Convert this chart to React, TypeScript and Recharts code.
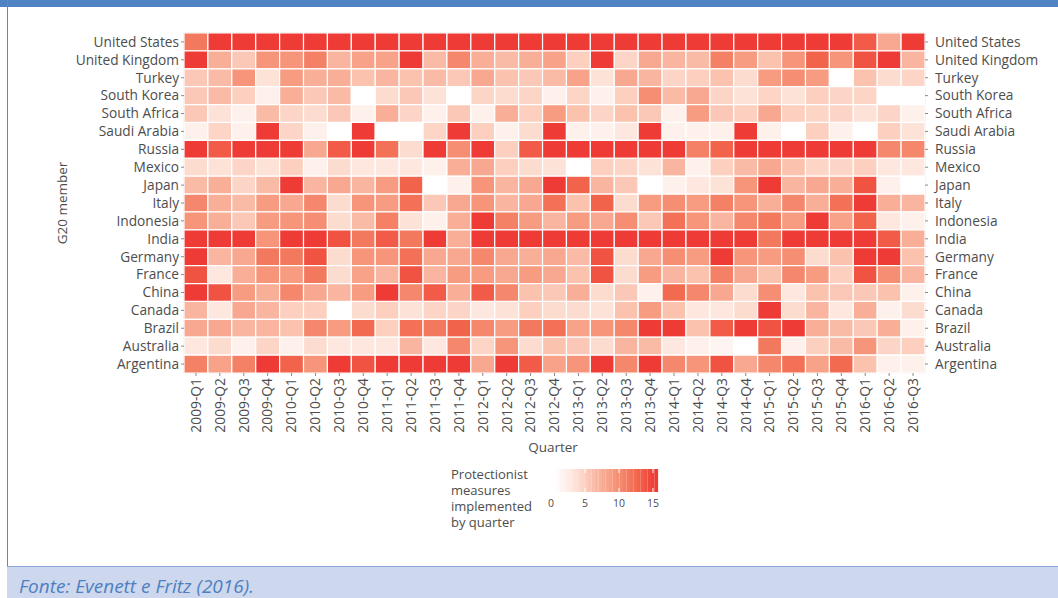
import React from 'react'
import { BarChart, Bar, XAxis, YAxis, Cell, ReferenceArea } from 'recharts'

// G20 members, top to bottom
const COUNTRIES = [
  'United States', 'United Kingdom', 'Turkey', 'South Korea', 'South Africa',
  'Saudi Arabia', 'Russia', 'Mexico', 'Japan', 'Italy', 'Indonesia', 'India',
  'Germany', 'France', 'China', 'Canada', 'Brazil', 'Australia', 'Argentina',
]

const QUARTERS = [
  '2009-Q1', '2009-Q2', '2009-Q3', '2009-Q4', '2010-Q1', '2010-Q2', '2010-Q3', '2010-Q4',
  '2011-Q1', '2011-Q2', '2011-Q3', '2011-Q4', '2012-Q1', '2012-Q2', '2012-Q3', '2012-Q4',
  '2013-Q1', '2013-Q2', '2013-Q3', '2013-Q4', '2014-Q1', '2014-Q2', '2014-Q3', '2014-Q4',
  '2015-Q1', '2015-Q2', '2015-Q3', '2015-Q4', '2016-Q1', '2016-Q2', '2016-Q3',
]

// protectionist measures implemented per quarter
const unitedStates = [11, 15, 15, 15, 15, 15, 15, 15, 15, 15, 15, 15, 15, 15, 15, 15, 15, 15, 15, 15, 15, 15, 15, 15, 15, 15, 15, 15, 13, 7.5, 15]
const unitedKingdom = [15, 7, 5, 9, 9, 10.5, 6.5, 8, 8, 15, 6, 10, 7, 6, 7, 8, 4.5, 15, 4, 7.5, 6.5, 6, 10.5, 8.5, 5.5, 9, 12.5, 9, 13.5, 15, 6.5]
const turkey = [5, 6, 9, 3, 8.5, 7, 7, 5.5, 6.5, 5.5, 6, 5, 7.5, 5.5, 5, 6, 8, 3, 7.5, 6.5, 4, 4.5, 5.5, 3.5, 8.5, 9.5, 8.5, 0, 5.5, 3.5, 4]
const southKorea = [5, 6, 4.5, 1.5, 7, 5, 6, 0, 3.5, 5, 3, 0, 4, 3.5, 4, 1.5, 4, 1.5, 4.5, 9.5, 6, 7.5, 4, 3, 4, 3, 4.5, 4, 4, 0, 0]
const southAfrica = [5, 3, 1.5, 6, 4, 3.5, 5, 1.5, 7, 4, 1.5, 5, 1.5, 7, 4.5, 8.5, 5.5, 4, 5.5, 5, 1.5, 8.5, 5, 4.5, 7.5, 4.5, 4, 4, 3, 4, 1.5]
const saudiArabia = [1.5, 4, 1.5, 15, 4, 1.5, 0, 15, 0, 0, 4, 15, 4.5, 1.5, 3.5, 15, 1.5, 1.5, 2.5, 15, 1.5, 1.5, 1.5, 15, 1.5, 0, 4.5, 1.5, 0, 4.5, 3]
const russia = [15, 13, 15, 15, 15, 7.5, 13, 15, 11.5, 3.5, 15, 9.5, 15, 4.5, 13, 15, 15, 15, 15, 15, 15, 10.5, 12.5, 15, 15, 15, 15, 15, 15, 10, 10]
const mexico = [3.5, 3, 4, 3, 4.5, 1.5, 3.5, 2.5, 2.5, 2.5, 1.5, 7, 7.5, 4.5, 3.5, 3, 0, 4.5, 4, 3, 6.5, 1.5, 4.5, 6, 7.5, 5.5, 4, 4, 4.5, 2.5, 2.5]
const japan = [6, 7, 4, 6, 15, 6.5, 7.5, 6.5, 8.5, 12.5, 0, 1.5, 9, 6.5, 7.5, 15, 12.5, 6.5, 5, 0, 1.5, 2.5, 3, 9, 15, 6.5, 7.5, 7, 13.5, 1.5, 0]
const italy = [10, 7, 6, 8.5, 7.5, 10, 3.5, 9, 8.5, 11.5, 5, 7.5, 9, 6.5, 7.5, 11.5, 5.5, 12.5, 3.5, 8.5, 9.5, 8.5, 10.5, 9, 7, 10, 7, 11.5, 15, 7, 6.5]
const indonesia = [9, 7, 5, 8.5, 9, 9.5, 3.5, 6, 10.5, 3, 1.5, 7, 15, 10.5, 8.5, 6.5, 8.5, 7.5, 9.5, 5, 11.5, 9, 6.5, 10, 11, 8.5, 15, 8, 12.5, 2.5, 1.5]
const india = [15, 15, 15, 9, 15, 15, 13.5, 11, 13, 11, 15, 7, 15, 15, 15, 15, 15, 15, 15, 15, 15, 15, 15, 15, 11, 15, 15, 15, 15, 13, 7]
const germany = [15, 6.5, 7.5, 11, 11, 13.5, 3.5, 9, 9, 11.5, 7.5, 7.5, 10, 7.5, 7, 7.5, 6, 13.5, 3.5, 7.5, 9.5, 8.5, 15, 9, 8.5, 9.5, 3.5, 5.5, 15, 15, 5.5]
const france = [13.5, 2.5, 7, 9, 8.5, 11, 3.5, 8, 6.5, 13.5, 6.5, 8.5, 8.5, 7.5, 8.5, 7.5, 5.5, 13.5, 3.5, 8.5, 6.5, 5.5, 10.5, 7.5, 5.5, 10, 8.5, 4.5, 13.5, 9.5, 6.5]
const china = [15, 13.5, 8.5, 7, 10, 7.5, 6.5, 8.5, 15, 10, 13, 7, 13, 10, 5.5, 5, 7, 3.5, 5, 1.5, 12, 10, 7.5, 3.5, 9.5, 2.5, 5.5, 5, 5, 5.5, 1.5]
const canada = [6.5, 2.5, 7.5, 6.5, 4.5, 4.5, 0, 3.5, 4.5, 3, 4, 4, 2.5, 3, 4.5, 3.5, 3.5, 3, 5.5, 8.5, 5.5, 2.5, 2.5, 3.5, 15, 3.5, 6.5, 2.5, 7, 1.5, 3.5]
const brazil = [7.5, 7.5, 6.5, 6.5, 5.5, 10, 8.5, 12, 4.5, 11.5, 11, 12.5, 10, 8.5, 11, 11.5, 8, 9, 10, 15, 15, 5.5, 13, 15, 13.5, 15, 7, 6, 5, 7, 1.5]
const australia = [2.5, 3.5, 1.5, 4, 1.5, 3.5, 2.5, 2.5, 2.5, 6.5, 2.5, 10, 4, 9, 3.5, 5.5, 5, 3.5, 6.5, 6, 2.5, 1.5, 1, 0, 11, 1.5, 4.5, 6, 9, 4, 4.5]
const argentina = [10.5, 8, 10.5, 15, 12.5, 9, 15, 13.5, 15, 15, 15, 15, 7.5, 15, 13, 8, 9, 15, 10, 15, 10, 9, 13.5, 7.5, 10, 11.5, 8, 12, 5.5, 1.5, 1.5]

const VALUES = [
  unitedStates, unitedKingdom, turkey, southKorea, southAfrica, saudiArabia,
  russia, mexico, japan, italy, indonesia, india, germany, france, china,
  canada, brazil, australia, argentina,
]

const LEGEND_TICKS = [0, 5, 10, 15]

const COLOR_STOPS: [number, string][] = [
  [0, '#ffffff'],
  [3, '#fde2d8'],
  [6, '#fabba6'],
  [9, '#f6957a'],
  [12, '#f26b50'],
  [15, '#ef3b36'],
]

function hex(c: string) {
  return [1, 3, 5].map(i => parseInt(c.slice(i, i + 2), 16))
}

function fillFor(v: number): string {
  const val = Math.max(0, Math.min(15, v))
  for (let i = 0; i < COLOR_STOPS.length - 1; i++) {
    const [a, ca] = COLOR_STOPS[i]
    const [b, cb] = COLOR_STOPS[i + 1]
    if (val <= b) {
      const t = (val - a) / (b - a)
      const x = hex(ca)
      const y = hex(cb)
      const rgb = x.map((p, k) => Math.round(p + (y[k] - p) * t))
      return `rgb(${rgb[0]},${rgb[1]},${rgb[2]})`
    }
  }
  return COLOR_STOPS[COLOR_STOPS.length - 1][1]
}

const FONT = '"Open Sans", "Noto Sans", sans-serif'
const TEXT = '#4d4d4d'

// each row is one stacked bar; every quarter is a unit segment coloured by its value
const rows = COUNTRIES.map(country => {
  const row: Record<string, string | number> = { country }
  QUARTERS.forEach((_, j) => {
    row[`q${j}`] = 1
  })
  return row
})

const QuarterTick = (props: any) => {
  const { x, y, payload } = props
  const label = QUARTERS[Math.floor(payload.value)]
  return (
    <text
      x={x}
      y={y}
      transform={`rotate(-90 ${x} ${y})`}
      textAnchor="end"
      dy="0.35em"
      fontSize={13.8}
      fontFamily={FONT}
      fill={TEXT}
    >
      {label}
    </text>
  )
}

export default function App() {
  const legendStops = Array.from({ length: 30 }, (_, i) => i * 0.52)
  return (
    <div
      style={{
        position: 'absolute',
        left: 0,
        top: 0,
        width: 1058,
        height: 598,
        background: '#fff',
        fontFamily: FONT,
        overflow: 'hidden',
      }}
    >
      <div style={{ position: 'absolute', left: 0, top: 0, width: 1058, height: 7, background: '#4f83c4' }} />
      <div style={{ position: 'absolute', left: 7, top: 0, width: 1, height: 598, background: '#5b88c6' }} />

      <BarChart
        width={1058}
        height={460}
        data={rows}
        layout="vertical"
        barCategoryGap={0}
        margin={{ top: 33, right: 23, bottom: 27, left: 64 }}
        style={{ position: 'absolute', left: 0, top: 0 }}
      >
        <XAxis
          type="number"
          domain={[0, 31]}
          ticks={QUARTERS.map((_, j) => j + 0.5)}
          interval={0}
          tick={<QuarterTick />}
          tickSize={3}
          tickMargin={2}
          tickLine={{ stroke: '#8a8a8a' }}
          axisLine={false}
          height={60}
        />
        <YAxis
          yAxisId="left"
          type="category"
          dataKey="country"
          width={120}
          tickSize={3}
          tickMargin={2}
          tickLine={{ stroke: '#8a8a8a' }}
          axisLine={false}
          interval={0}
          tick={{ fontSize: 13.7, fontFamily: FONT, fill: TEXT }}
        />
        <YAxis
          yAxisId="right"
          orientation="right"
          type="category"
          dataKey="country"
          width={110}
          tickSize={3}
          tickMargin={7}
          tickLine={{ stroke: '#8a8a8a' }}
          axisLine={false}
          interval={0}
          tick={{ fontSize: 13.7, fontFamily: FONT, fill: TEXT, textAnchor: 'start' }}
        />
        {QUARTERS.map((q, j) => (
          <Bar
            key={q}
            yAxisId="left"
            dataKey={`q${j}`}
            stackId="grid"
            isAnimationActive={false}
            stroke="#ffffff"
            strokeWidth={1.2}
          >
            {VALUES.map((vals, i) => (
              <Cell key={`${q}-${i}`} fill={fillFor(vals[j])} />
            ))}
          </Bar>
        ))}
        <ReferenceArea
          yAxisId="left"
          x1={0}
          x2={31}
          fill="none"
          stroke="#d4d4d4"
          strokeWidth={1.2}
        />
      </BarChart>

      <div
        style={{
          position: 'absolute',
          left: 553,
          top: 438,
          transform: 'translateX(-50%)',
          fontSize: 13.5,
          color: TEXT,
        }}
      >
        Quarter
      </div>
      <div
        style={{
          position: 'absolute',
          left: 62,
          top: 203,
          transform: 'translate(-50%, -50%) rotate(-90deg)',
          fontSize: 13.5,
          color: TEXT,
          whiteSpace: 'nowrap',
        }}
      >
        G20 member
      </div>

      {/* colour legend */}
      <div
        style={{
          position: 'absolute',
          left: 451,
          top: 466,
          fontSize: 13,
          lineHeight: '16px',
          color: TEXT,
        }}
      >
        Protectionist
        <br />
        measures
        <br />
        implemented
        <br />
        by quarter
      </div>
      <svg
        width={130}
        height={50}
        style={{ position: 'absolute', left: 540, top: 466 }}
      >
        {legendStops.map((v, i) => (
          <rect
            key={i}
            x={13 + i * 3.5}
            y={3}
            width={3.6}
            height={23}
            fill={fillFor(v)}
          />
        ))}
        {LEGEND_TICKS.map(t => (
          <g key={t}>
            <line x1={11 + t * 6.8} x2={11 + t * 6.8} y1={3} y2={7} stroke="#fff" strokeWidth={1} />
            <line x1={11 + t * 6.8} x2={11 + t * 6.8} y1={22} y2={26} stroke="#fff" strokeWidth={1} />
            <text
              x={11 + t * 6.8}
              y={41}
              textAnchor="middle"
              fontSize={10.5}
              fontFamily={FONT}
              fill={TEXT}
            >
              {t}
            </text>
          </g>
        ))}
      </svg>

      <div
        style={{
          position: 'absolute',
          left: 7,
          top: 566,
          width: 1051,
          height: 32,
          background: '#cdd8ee',
          borderTop: '1px solid #8eaadb',
        }}
      />
      <div
        style={{
          position: 'absolute',
          left: 19,
          top: 573,
          fontSize: 19,
          fontStyle: 'italic',
          fontFamily: '"Liberation Sans Narrow", "Open Sans", sans-serif',
          color: '#4f7fc0',
        }}
      >
        Fonte: Evenett e Fritz (2016).
      </div>
    </div>
  )
}
